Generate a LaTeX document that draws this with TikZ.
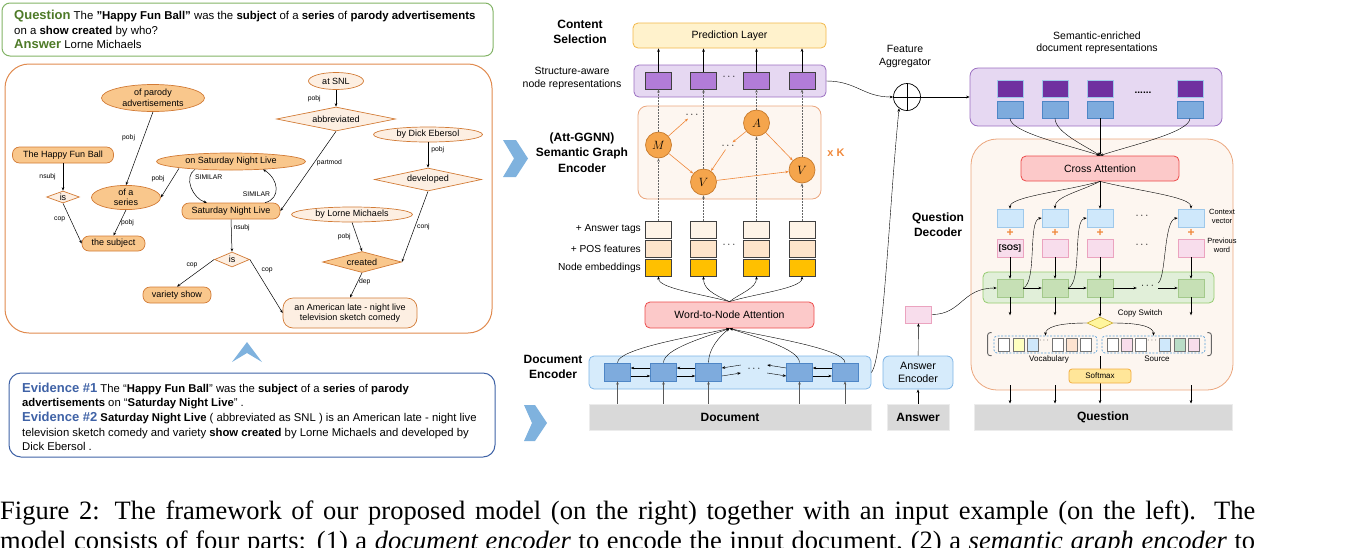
\documentclass[tikz,border=0pt]{standalone}
\usepackage{fontspec}
\setmainfont{Liberation Sans}
\newfontfamily\capfont{Liberation Serif}
\usepackage{xcolor}
\usepackage{tikz}
\usetikzlibrary{
  arrows.meta,
  calc,
  positioning,
  shapes.geometric
}

\newcommand{\fsz}[2]{\fontsize{#1}{#2}\selectfont}

\definecolor{qgreen}{HTML}{82B366}
\definecolor{qtext}{HTML}{4E7A27}
\definecolor{evblue}{HTML}{3F62A6}
\definecolor{gline}{HTML}{E08A4E}
\definecolor{gdark}{HTML}{D27B36}
\definecolor{gfill}{HTML}{F9C78C}
\definecolor{glight}{HTML}{FDEFE2}
\definecolor{chev}{HTML}{7FB2DE}
\definecolor{predfill}{HTML}{FFF2CC}
\definecolor{predline}{HTML}{F2B84B}
\definecolor{purpfill}{HTML}{E6D8F2}
\definecolor{purpline}{HTML}{9B6FC1}
\definecolor{purpbox}{HTML}{B27CD8}
\definecolor{purpdark}{HTML}{7030A0}
\definecolor{gnnfill}{HTML}{FDF6F0}
\definecolor{gnnline}{HTML}{EBA67D}
\definecolor{circfill}{HTML}{F5A54C}
\definecolor{circline}{HTML}{C77A2C}
\definecolor{oarrow}{HTML}{F0883A}
\definecolor{tagfill}{HTML}{FEF4E8}
\definecolor{posfill}{HTML}{FDE4CA}
\definecolor{embfill}{HTML}{FFC000}
\definecolor{attfill}{HTML}{FCC9C9}
\definecolor{attline}{HTML}{EC4A4A}
\definecolor{encfill}{HTML}{D6EBFB}
\definecolor{encline}{HTML}{7EB4E6}
\definecolor{encbox}{HTML}{7EABDD}
\definecolor{encboxline}{HTML}{4E86C6}
\definecolor{barfill}{HTML}{D9D9D9}
\definecolor{pinkfill}{HTML}{F8DDEC}
\definecolor{pinkline}{HTML}{EBA3BF}
\definecolor{ctxfill}{HTML}{CFE8FB}
\definecolor{ctxline}{HTML}{9EC8EA}
\definecolor{grnfill}{HTML}{E1EFD9}
\definecolor{grnline}{HTML}{96CC70}
\definecolor{grnbox}{HTML}{C6E0B5}
\definecolor{grnboxline}{HTML}{A3C98B}
\definecolor{swfill}{HTML}{FFF59D}
\definecolor{swline}{HTML}{C9A92A}
\definecolor{vocline}{HTML}{5BA0D8}
\definecolor{smfill}{HTML}{FFE699}
\definecolor{smline}{HTML}{F3AE43}
\definecolor{yelbox}{HTML}{FFFFC0}
\definecolor{peachbox}{HTML}{FDE3D0}
\definecolor{tealbox}{HTML}{B9DCC6}

\begin{document}
\begin{tikzpicture}[x=1pt, y=-1pt, inner sep=0pt,
  >={Stealth[length=3.4pt, width=2.6pt]},
  font=\fsz{10.5}{12.5},
  gel/.style={ellipse, draw=gdark, fill=#1, line width=0.7pt, font=\fsz{9}{10.5}, align=center},
  gdi/.style={diamond, aspect=4, draw=gdark, fill=#1, line width=0.7pt, font=\fsz{9}{10.5}},
  gre/.style={rectangle, rounded corners=7pt, draw=gdark, fill=#1, line width=0.7pt, font=\fsz{9}{10.5}, align=center},
  garr/.style={->, line width=0.5pt},
  elab/.style={font=\fsz{6.8}{7}},
  sq/.style={draw=#1, line width=0.6pt, minimum width=26pt, minimum height=17pt},
  cell/.style={draw=gray!90!black, line width=0.5pt, minimum width=11pt, minimum height=13pt},
  panel/.style 2 args={draw=#1, fill=#2, line width=0.8pt, rounded corners=5pt},
  bar/.style={fill=barfill, draw=barfill!50!white, line width=1pt, minimum height=26pt, font=\fsz{12}{12}\bfseries},
  gcirc/.style={circle, draw=circline, fill=circfill, line width=0.7pt, minimum size=26pt, font=\fsz{12}{12}},
  dotarr/.style={->, densely dotted, line width=0.5pt, draw=gray!80!black},
  oarr/.style={->, draw=oarrow, line width=0.6pt},
  secname/.style={font=\fsz{12}{15}\bfseries, align=center},
  note/.style={font=\fsz{7.5}{9}, align=center},
  dotnode/.style={font=\fsz{11}{11}, inner sep=1pt},
]
\useasboundingbox (0,0) rectangle (1346,547);

% Question and answer
\node[draw=qgreen, line width=1pt, rounded corners=8pt, minimum width=491pt, minimum height=53pt] (qbox) at (247.5,29.5) {};
\node[anchor=base west, font=\fsz{11.4}{14}] (q1) at (14,19.5)
  {{\fsz{13}{14}\bfseries\color{qtext}Question} The \textbf{"Happy Fun Ball"} was the \textbf{subject} of a \textbf{series} of \textbf{parody advertisements}};
\node[anchor=base west, font=\fsz{11.4}{14}] (q2) at (14,34) {on a \textbf{show created} by who?};
\node[anchor=base west, font=\fsz{11.4}{14}] (q3) at (14,48)
  {{\fsz{13}{14}\bfseries\color{qtext}Answer} Lorne Michaels};

% Semantic graph
\node[draw=gline, line width=1pt, rounded corners=24pt, minimum width=487pt, minimum height=269pt] (gpan) at (248.5,198.5) {};
\node[gel=gfill, minimum width=103pt, minimum height=27pt] (pa) at (153,98) {of parody\\advertisements};
\node[gel=glight, minimum width=55pt, minimum height=17pt] (atsnl) at (336,81) {at SNL};
\node[gdi=glight, minimum width=119pt, minimum height=24pt] (abbr) at (336,119) {abbreviated};
\node[gel=glight, minimum width=109pt, minimum height=15pt] (dick) at (428,134.5) {by Dick Ebersol};
\node[gdi=glight, minimum width=107pt, minimum height=23pt] (dev) at (428,179.5) {developed};
\node[gel=glight, minimum width=121pt, minimum height=15pt] (lorne) at (352,214.5) {by Lorne Michaels};
\node[gdi=gfill, minimum width=79pt, minimum height=21pt] (crt) at (362,262) {created};
\node[gre=glight, rounded corners=10pt, minimum width=134pt, minimum height=30pt] (amer) at (350,313)
  {an American late - night live\\television sketch comedy};
\node[gel=gfill, minimum width=149pt, minimum height=17pt] (onsnl) at (231,161.5) {on Saturday Night Live};
\node[gre=gfill, minimum width=98pt, minimum height=16pt] (snl) at (231,211) {Saturday Night Live};
\node[gdi=glight, minimum width=35pt, minimum height=15pt] (is2) at (232,259.5) {is};
\node[gre=gfill, minimum width=68pt, minimum height=16pt] (vshow) at (177,295) {variety show};
\node[gre=gfill, minimum width=101pt, minimum height=16pt] (hfb) at (63,155) {The Happy Fun Ball};
\node[gdi=glight, minimum width=32pt, minimum height=12pt] (is1) at (63,197) {is};
\node[gel=gfill, minimum width=69pt, minimum height=23pt] (series) at (126,197.5) {of a\\series};
\node[gre=gfill, minimum width=63pt, minimum height=15pt] (subj) at (113.5,243.5) {the subject};

\draw[garr] (hfb.south) -- (is1.north) node[elab, midway, left=7pt] {nsubj};
\draw[garr] (is1.south) -- (subj.west) node[elab, pos=.4, left=5pt] {cop};
\draw[garr] (pa.south) -- (series.north) node[elab, pos=.36, left=8pt] {pobj};
\draw[garr] ($(onsnl.south)+(-52,-2)$) -- (series.east) node[elab, pos=.35, left=8pt] {pobj};
\draw[garr] (series.south) -- (subj.north) node[elab, midway, right=1pt] {pobj};
\draw[garr] (atsnl.south) -- (abbr.north) node[elab, midway, left=15pt] {pobj};
\draw[garr] (abbr.south) -- (snl.east) node[elab, pos=.4, right=3pt] {partmod};
\draw[garr] (dick.south) -- (dev.north) node[elab, pos=.3, right=3pt] {pobj};
\draw[garr] (dev.south) -- (crt.east) node[elab, midway, right=2pt] {conj};
\draw[garr] (lorne.south) -- (crt.north) node[elab, midway, left=6pt] {pobj};
\draw[garr] (crt.south) -- (amer.north) node[elab, pos=.35, right=1pt] {dep};
\draw[garr] (snl.south) -- (is2.north) node[elab, pos=.25, right=2pt] {nsubj};
\draw[garr] (is2.west) -- (vshow.north) node[elab, pos=.2, left=9pt] {cop};
\draw[garr] (is2.east) -- (amer.west) node[elab, pos=.2, right=5pt] {cop};
\draw[garr] ($(onsnl.south)+(-36,-1)$) .. controls +(-12,8) and +(-14,-4) .. ($(snl.north)+(-24,0)$)
  node[elab, pos=.25, right=5pt] {SIMILAR};
\draw[garr] ($(snl.north)+(34,0)$) .. controls +(16,-4) and +(16,10) .. ($(onsnl.south)+(32,-1)$)
  node[elab, pos=.35, left=5pt] {SIMILAR};

\fill[chev] (232,362) -- (247,342) -- (262,362) -- (247,353) -- cycle;

% Evidence
\node[draw=evblue, line width=1pt, rounded corners=12pt, minimum width=486pt, minimum height=84pt] (evbox) at (252,415) {};
\node[anchor=base west, font=\fsz{11.3}{14}] (e1) at (22,392)
  {{\fsz{13}{14}\bfseries\color{evblue}Evidence \#1} The “\textbf{Happy Fun Ball}” was the \textbf{subject} of a \textbf{series} of \textbf{parody}};
\node[anchor=base west, font=\fsz{11.3}{14}] (e2) at (22,406.5)
  {\textbf{advertisements} on “\textbf{Saturday Night Live}” .};
\node[anchor=base west, font=\fsz{11.3}{14}] (e3) at (22,421.5)
  {{\fsz{13}{14}\bfseries\color{evblue}Evidence \#2} \textbf{Saturday Night Live} ( abbreviated as SNL ) is an American late - night live};
\node[anchor=base west, font=\fsz{11.3}{14}] (e4) at (22,436)
  {television sketch comedy and variety \textbf{show created} by Lorne Michaels and developed by};
\node[anchor=base west, font=\fsz{11.3}{14}] (e5) at (22,450.5) {Dick Ebersol .};

% Content selection and graph encoder
\node[secname] (lcs) at (580,31.5) {Content\\Selection};
\node[panel={predline}{predfill}, minimum width=193pt, minimum height=25pt] (pred) at (729.5,35.5) {Prediction Layer};
\node[align=center, font=\fsz{10.5}{13}] (lsa) at (572,78.5) {Structure-aware\\node representations};
\node[panel={purpline}{purpfill}, minimum width=192pt, minimum height=32pt] (prp) at (730,81) {};
\node[secname, font=\fsz{12}{15.5}\bfseries] (lgnn) at (582,152.5) {(Att-GGNN)\\Semantic Graph\\Encoder};
\node[panel={gnnline}{gnnfill}, rounded corners=9pt, minimum width=183pt, minimum height=93pt] (gnn) at (729.5,152.5) {};
\node[font=\fsz{11}{11}\bfseries, text=oarrow] (xk) at (836,153) {x K};
\fill[chev] (503,140) -- (516,140) -- (528,158.5) -- (516,177) -- (503,177) -- (514,158.5) -- cycle;

\foreach \x [count=\i] in {658.5,703.5,756.5,802} {
  \node[sq=darkgray, fill=purpbox] (pr\i) at (\x,80.5) {};
  \draw[->] (pr\i.north) -- (pr\i |- pred.south);
  \node[sq=darkgray, fill=tagfill] (tg\i) at (\x,229.5) {};
  \node[sq=darkgray, fill=posfill] (ps\i) at (\x,248.5) {};
  \node[sq=darkgray, fill=embfill] (ne\i) at (\x,267.5) {};
}
\node[dotnode] (prd) at (729,77) {$\cdots$};
\node[dotnode] (psd) at (729,245) {$\cdots$};
\node[anchor=east, font=\fsz{10.2}{12}] (ltag) at (641,229.5) {+ Answer tags};
\node[anchor=east, font=\fsz{10.2}{12}] (lpos) at (641,248.5) {+ POS features};
\node[anchor=east, font=\fsz{10.2}{12}] (lemb) at (641,267.5) {Node embeddings};

\node[gcirc] (gm) at (658.5,145) {$M$};
\node[gcirc] (gv1) at (703.5,182) {$V$};
\node[gcirc] (ga) at (756.5,123) {$A$};
\node[gcirc] (gv2) at (802,170) {$V$};
\node[dotnode] (gd1) at (692,115) {$\cdots$};
\node[dotnode] (gd2) at (728,146) {$\cdots$};
\foreach \c/\i in {gm/1, gv1/2, ga/3, gv2/4} {
  \draw[dotarr] (tg\i.north) -- (\c.south);
  \draw[dotarr] (\c.north) -- (pr\i.south);
}
\draw[oarr] (gm) -- (gd1);
\draw[oarr] (gm) -- (gv1);
\draw[oarr] (ga) -- (gd2);
\draw[oarr] (gd2) -- (gv1);
\draw[oarr] (ga) -- (gv2);
\draw[oarr] (gv1) -- (gv2);

% Word-to-node attention and document encoder
\node[panel={attline}{attfill}, minimum width=169pt, minimum height=26pt] (wna) at (729.5,315) {Word-to-Node Attention};
\foreach \i/\d in {1/-30, 2/-18, 3/10, 4/26} {
  \draw[->] (wna.north) .. controls +(\d,-8) and +(0,12) .. (ne\i.south);
}
\node[secname] (lde) at (553,367) {Document\\Encoder};
\node[panel={encline}{encfill}, minimum width=282pt, minimum height=33pt] (denc) at (730,372.5) {};
\node[bar, minimum width=282pt] (dbar) at (730,417) {Document};
\fill[chev] (524,405) -- (535,405) -- (547,423) -- (535,441) -- (524,441) -- (532,423) -- cycle;
\foreach \x [count=\i] in {617.5,663.5,708.5,799.5,845} {
  \node[sq=encboxline, fill=encbox, minimum height=18pt] (ds\i) at (\x,372) {};
  \draw[->, draw=gray!70!black] (ds\i |- dbar.north) -- (ds\i.south);
}
\node[dotnode, minimum width=26pt] (dsd) at (754,369) {$\cdots$};
\foreach \a/\b in {ds1/ds2, ds2/ds3, ds3/dsd, dsd/ds4, ds4/ds5} {
  \draw[->] ($(\b.west)+(0,-4)$) -- ($(\a.east)+(0,-4)$);
  \draw[->] ($(\a.east)+(0,4)$) -- ($(\b.west)+(0,4)$);
}
\foreach \i/\d in {1/-36, 2/-22, 3/-10, 4/24, 5/34} {
  \draw[->] (ds\i.north) .. controls +(0,-14) and +(\d,8) .. (wna.south);
}

% Answer encoder
\node[bar, minimum width=62pt] (abar) at (918,417) {Answer};
\node[panel={encline}{encfill}, rounded corners=6pt, minimum width=70pt, minimum height=33pt, align=center, font=\fsz{10.7}{13}] (aenc) at (918,372.5) {Answer\\Encoder};
\node[sq=pinkline, fill=pinkfill] (apink) at (918.5,314.5) {};
\draw[->] (abar) -- (aenc);
\draw[->] (aenc) -- (apink);

% Feature aggregator
\node[align=center, font=\fsz{10.5}{13}] (lagg) at (905,56) {Feature\\Aggregator};
\node[circle, draw, line width=0.7pt, minimum size=27pt] (agg) at (907,97) {};
\draw[line width=0.7pt] (agg.north) -- (agg.south) (agg.west) -- (agg.east);
\draw[->] (prp.east) .. controls +(30,0) and +(-30,0) .. (agg.west);
\draw[->] (denc.east) .. controls +(12,-15) and +(-10,100) .. (agg.235);

% Semantic-enriched document representations
\node[align=center, font=\fsz{10.5}{12.5}] (lsem) at (1097,43) {Semantic-enriched\\document representations};
\node[panel={purpline}{purpfill}, rounded corners=8pt, minimum width=252pt, minimum height=58pt] (sem) at (1096,97) {};
\draw[->] (agg.east) -- (sem.west |- agg.east);
\foreach \x [count=\i] in {1010,1055,1100,1190} {
  \node[sq=ctxline, fill=purpdark] (sp\i) at (\x,88.5) {};
  \node[sq=encboxline, fill=encbox] (sb\i) at (\x,109.5) {};
}
\node[font=\fsz{10}{10}\bfseries] (semd) at (1143,93) {......};

% Question decoder
\node[secname] (lqd) at (938,224.5) {Question\\Decoder};
\node[panel={gnnline}{gnnfill}, rounded corners=26pt, minimum width=262pt, minimum height=251pt] (qdec) at (1102,264.5) {};
\node[panel={attline}{attfill}, minimum width=158pt, minimum height=25pt] (ca) at (1100,168.5) {Cross Attention};
\foreach \i/\d in {1/-30, 2/-15, 4/30} {
  \draw[->] (sb\i.south) .. controls +(0,14) and +(\d,-10) .. (ca.north);
}
\draw[->] (sb3.south) -- (ca.north);
\node[panel={grnline}{grnfill}, minimum width=231pt, minimum height=31pt] (grn) at (1098.5,287.5) {};
\foreach \x [count=\i] in {1010,1055,1100,1191} {
  \node[sq=ctxline, fill=ctxfill, minimum height=18pt] (cv\i) at (\x,218) {};
  \node[font=\fsz{12}{12}\bfseries, text=oarrow] (pl\i) at (\x,233) {+};
  \node[sq=pinkline, fill=pinkfill, minimum height=18pt] (pw\i) at (\x,248) {};
  \node[sq=grnboxline, fill=grnbox, minimum height=18pt] (gs\i) at (\x,288) {};
  \draw[->] (pw\i.south) -- (gs\i.north);
}
\node[font=\fsz{8}{8}\bfseries] (sos) at (pw1) {[SOS]};
\node[dotnode] (cvd) at (1142,216) {$\cdots$};
\node[dotnode] (pwd) at (1142,245) {$\cdots$};
\node[note] (lctx) at (1222,216) {Context\\vector};
\node[note] (lprev) at (1222,245) {Previous\\word};
\foreach \i/\d in {1/-36, 2/-20, 4/40} {
  \draw[->] (ca.south) .. controls +(\d,10) and +(0,-12) .. (cv\i.north);
}
\draw[->] (ca.south) -- (cv3.north);

\node[dotnode, minimum width=21pt] (gsd) at (1147.5,286) {$\cdots$};
\draw[->] (gs1) -- (gs2);
\draw[->] (gs2) -- (gs3);
\draw[->] (gs3.east) -- (gs3.east -| gsd.west);
\draw[->] (gs4.west -| gsd.east) -- (gs4.west);
\draw[->] (gs1.east) .. controls +(14,-6) and +(-14,2) .. (cv2.west);
\draw[->] (gs2.east) .. controls +(14,-6) and +(-14,2) .. (cv3.west);
\draw[->] ($(gs4.west -| gsd.east)+(0,-5)$) .. controls +(8,-6) and +(-14,2) .. (cv4.west);
\draw[->] (apink.east) .. controls +(30,0) and +(-35,0) .. (gs1.west);

% Copy switch and output distribution
\node[diamond, aspect=2.2, draw=swline, fill=swfill, line width=0.6pt, minimum width=26pt, minimum height=12pt] (csw) at (1100,323) {};
\node[font=\fsz{8}{8}] (lcsw) at (1140,313) {Copy Switch};
\draw[->] (gs3.south) -- (csw.north);
\foreach \i in {1,2,4} {
  \draw[->] (gs\i.south) -- ++(0,18);
}
\node[draw=vocline, dash pattern=on 2pt off 1.5pt, rounded corners=3pt, line width=0.7pt, minimum width=103pt, minimum height=17pt] (vocab) at (1045.5,344.5) {};
\node[draw=vocline, dash pattern=on 2pt off 1.5pt, rounded corners=3pt, line width=0.7pt, minimum width=103pt, minimum height=17pt] (src) at (1153.5,344.5) {};
\foreach \x/\c [count=\i] in {1003.5/white, 1018.5/yelbox, 1032.5/ctxfill, 1057.5/white, 1071.5/peachbox, 1085.5/white} {
  \node[cell, fill=\c] (vw\i) at (\x,344.5) {};
}
\foreach \x/\c [count=\i] in {1112.5/white, 1126.5/pinkfill, 1140.5/white, 1164.5/ctxfill, 1179.5/tealbox, 1193.5/pinkfill} {
  \node[cell, fill=\c] (sw\i) at (\x,344.5) {};
}
\node[font=\fsz{8}{8}] (vd) at (1044,341) {$\cdots$};
\node[font=\fsz{8}{8}] (sd) at (1152,341) {$\cdots$};
\draw[line width=0.9pt, gray!80!black, rounded corners=2.5pt] ($(vocab.north west)+(-2,-3)$) -- ++(-4,0) -- ++(0,23) -- ++(4,0);
\draw[line width=0.9pt, gray!80!black, rounded corners=2.5pt] ($(src.north east)+(2,-3)$) -- ++(4,0) -- ++(0,23) -- ++(-4,0);
\node[font=\fsz{8}{8}] (lvoc) at (1049,359) {Vocabulary};
\node[font=\fsz{8}{8}] (lsrc) at (1157,359) {Source};
\draw[->] (csw.west) .. controls +(-30,0) and +(0,-8) .. (vocab.north);
\draw[->] (csw.east) .. controls +(30,0) and +(0,-8) .. (src.north);

\node[bar, minimum width=258pt] (qbar) at (1103,417) {Question};
\coordinate (mix) at (1100,356);
\draw[->] (mix) -- (mix |- qbar.north);
\node[panel={smline}{smfill}, rounded corners=3pt, minimum width=62pt, minimum height=14pt, font=\fsz{8}{8}] (smax) at (1100,376) {Softmax};
\foreach \i in {1,2,4} {
  \draw[->] ($(gs\i |- qdec.south)+(0,-5)$) -- (gs\i |- qbar.north);
}

% Caption
\node[anchor=base west, font=\capfont\fsz{26.5}{31}] (cap1) at (0,519)
  {\makebox[1255pt][s]{Figure 2: The framework of our proposed model (on the right) together with an input example (on the left). The}};
\node[anchor=base west, font=\capfont\fsz{26.5}{31}] (cap2) at (0,549)
  {\makebox[1255pt][s]{model consists of four parts: (1) a \textit{document encoder} to encode the input document, (2) a \textit{semantic graph encoder} to}};
\end{tikzpicture}
\end{document}
